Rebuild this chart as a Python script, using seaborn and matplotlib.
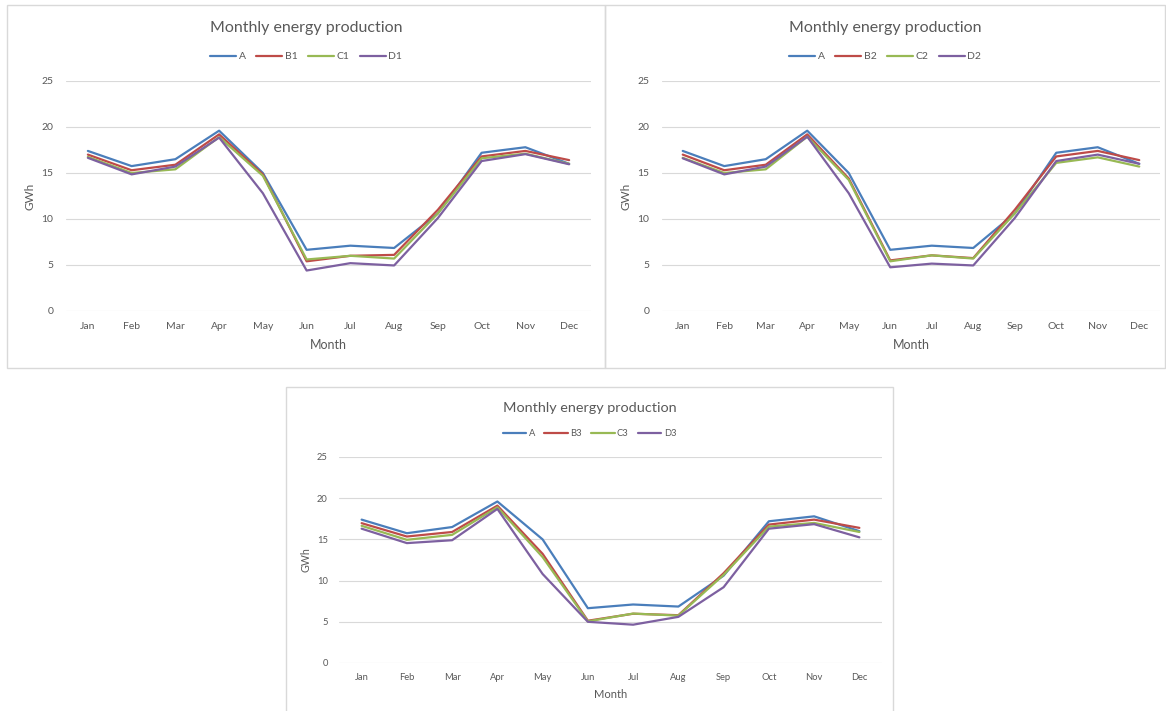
import matplotlib
matplotlib.use("Agg")
import matplotlib.pyplot as plt
from matplotlib.patches import Rectangle
import pandas as pd
import seaborn as sns

months = ["Jan", "Feb", "Mar", "Apr", "May", "Jun", "Jul", "Aug", "Sep", "Oct", "Nov", "Dec"]

# Reference series (GWh)
A = [17.4, 15.75, 16.5, 19.6, 15.0, 6.65, 7.1, 6.85, 10.6, 17.2, 17.8, 16.0]

# Scenario 1
B1 = [17.0, 15.3, 15.9, 19.2, 14.85, 5.4, 6.0, 6.1, 11.0, 16.8, 17.4, 16.4]
C1 = [16.75, 15.0, 15.4, 18.9, 14.7, 5.6, 6.0, 5.7, 10.6, 16.6, 17.1, 16.0]
D1 = [16.65, 14.85, 15.7, 18.85, 12.8, 4.4, 5.2, 4.95, 10.1, 16.3, 17.05, 15.95]

# Scenario 2
B2 = [17.0, 15.3, 15.9, 19.2, 14.4, 5.5, 6.05, 5.75, 11.0, 16.8, 17.4, 16.4]
C2 = [16.65, 15.0, 15.4, 18.95, 14.25, 5.4, 6.05, 5.7, 10.6, 16.1, 16.7, 15.7]
D2 = [16.6, 14.85, 15.7, 18.95, 12.8, 4.75, 5.15, 4.95, 10.1, 16.3, 17.0, 16.0]

# Scenario 3
B3 = [16.97, 15.35, 15.9, 19.1, 13.25, 5.13, 5.98, 5.8, 10.9, 16.8, 17.4, 16.4]
C3 = [16.65, 14.95, 15.55, 18.9, 12.85, 5.05, 6.0, 5.75, 10.7, 16.55, 17.0, 15.9]
D3 = [16.3, 14.55, 14.9, 18.7, 10.8, 5.0, 4.65, 5.6, 9.2, 16.3, 16.85, 15.25]

title = "Monthly energy production"
xlabel = "Month"
ylabel = "GWh"
yticks = [0, 5, 10, 15, 20, 25]

colors = ["#4A7EBB", "#BE4B48", "#98B954", "#7D60A0"]
grey_text = "#595959"
grid_col = "#D9D9D9"

sns.set_theme(style="white")
plt.rcParams["font.family"] = ["Lato", "DejaVu Sans"]

W, H = 1166, 711
fig = plt.figure(figsize=(W / 100, H / 100), dpi=100)


def px_rect(x0, y0, x1, y1):
    """Convert pixel box (top-left origin) to figure fraction [l, b, w, h]."""
    return [x0 / W, 1 - y1 / H, (x1 - x0) / W, (y1 - y0) / H]


def draw_panel(frame, plot_box, series, scale=1.0):
    fx0, fy0, fx1, fy1 = frame
    # chart-area border
    fig.add_artist(Rectangle((fx0 / W, 1 - fy1 / H), (fx1 - fx0) / W, (fy1 - fy0) / H,
                             transform=fig.transFigure, fill=False,
                             edgecolor=grid_col, linewidth=1.0))
    ax = fig.add_axes(px_rect(*plot_box))
    names = list(series.keys())
    df = pd.DataFrame({
        "Month": [m for _ in names for m in months],
        "GWh": [v for n in names for v in series[n]],
        "Series": [n for n in names for _ in months],
    })
    sns.lineplot(data=df, x="Month", y="GWh", hue="Series", hue_order=names,
                 palette=colors, sort=False, linewidth=1.6, ax=ax, legend=True)
    ax.set_xlim(-0.5, len(months) - 0.5)
    ax.set_ylim(0, 25)
    ax.set_yticks(yticks)
    for s in ax.spines.values():
        s.set_visible(False)
    ax.grid(axis="y", color=grid_col, linewidth=0.8)
    ax.grid(axis="x", visible=False)
    ax.set_axisbelow(True)
    ax.tick_params(axis="both", length=0, labelsize=7.5 * scale, colors=grey_text)
    ax.tick_params(axis="y", pad=9 * scale)
    ax.tick_params(axis="x", pad=8 * scale)
    ax.set_xlabel(xlabel, fontsize=9 * scale, color=grey_text, labelpad=5.5 * scale)
    ax.set_ylabel(ylabel, fontsize=8.5 * scale, color=grey_text, labelpad=4 * scale)

    cx = (fx0 + fx1) / 2
    fig.text(cx / W, 1 - (fy0 + 23.5 * scale) / H, title, ha="center", va="center",
             fontsize=11.5 * scale, color=grey_text)
    ax.legend(loc="center", bbox_to_anchor=(cx / W, 1 - (fy0 + 52 * scale) / H),
              bbox_transform=fig.transFigure, ncol=4, frameon=False,
              fontsize=7.5 * scale, handlelength=2.5, handletextpad=0.25,
              columnspacing=1.0, labelcolor=grey_text)
    return ax


draw_panel((7, 4.5, 605, 368), (66, 81, 591, 311),
           {"A": A, "B1": B1, "C1": C1, "D1": D1})
draw_panel((605, 4.5, 1165, 368), (662, 81, 1160, 311),
           {"A": A, "B2": B2, "C2": C2, "D2": D2})
draw_panel((286, 387, 893, 720), (339, 457, 882, 663),
           {"A": A, "B3": B3, "C3": C3, "D3": D3}, scale=0.9)

fig.savefig("out.png", dpi=100, facecolor="white")
